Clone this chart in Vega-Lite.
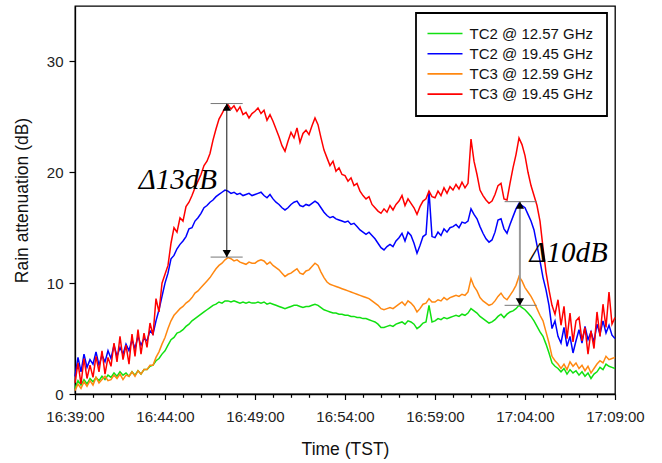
{
"autosize":"none",
"padding":{"left":75,"top":6,"right":47,"bottom":69},
"width":540,"height":388,
"config":{
 "view":{"stroke":"black","strokeWidth":1.3},
 "axis":{"domainColor":"black","domainWidth":1.3,"tickColor":"black","tickWidth":1.2,"labelFont":"Liberation Sans","labelFontSize":15,"labelColor":"#222","titleFont":"Liberation Sans","titleFontSize":17.5,"titleFontWeight":"normal","titleColor":"#111","grid":false},
 "legend":{"strokeWidth":1.8}
},
"layer":[
{
 "data":{"values":[
{"t":"16:39:00","TC2_12":0.5,"TC2_19":1.6,"TC3_12":0.3,"TC3_19":1.0},
{"t":"16:39:10","TC2_12":1.2,"TC2_19":3.3,"TC3_12":0.9,"TC3_19":2.8},
{"t":"16:39:20","TC2_12":0.8,"TC2_19":2.0,"TC3_12":0.5,"TC3_19":0.9},
{"t":"16:39:30","TC2_12":1.3,"TC2_19":3.6,"TC3_12":1.1,"TC3_19":3.2},
{"t":"16:39:40","TC2_12":0.9,"TC2_19":2.4,"TC3_12":0.7,"TC3_19":1.4},
{"t":"16:39:50","TC2_12":1.4,"TC2_19":3.1,"TC3_12":1.2,"TC3_19":2.6},
{"t":"16:40:00","TC2_12":1.1,"TC2_19":2.7,"TC3_12":0.8,"TC3_19":1.5},
{"t":"16:40:10","TC2_12":1.5,"TC2_19":3.8,"TC3_12":1.5,"TC3_19":3.4},
{"t":"16:40:20","TC2_12":1.2,"TC2_19":2.6,"TC3_12":1.0,"TC3_19":2.0},
{"t":"16:40:30","TC2_12":1.6,"TC2_19":3.5,"TC3_12":1.3,"TC3_19":3.9},
{"t":"16:40:40","TC2_12":1.3,"TC2_19":2.9,"TC3_12":1.6,"TC3_19":1.8},
{"t":"16:40:50","TC2_12":1.7,"TC2_19":3.9,"TC3_12":1.2,"TC3_19":3.3},
{"t":"16:41:00","TC2_12":1.5,"TC2_19":3.2,"TC3_12":1.3,"TC3_19":2.5},
{"t":"16:41:10","TC2_12":1.9,"TC2_19":4.4,"TC3_12":1.7,"TC3_19":4.6},
{"t":"16:41:20","TC2_12":1.6,"TC2_19":3.4,"TC3_12":1.4,"TC3_19":2.9},
{"t":"16:41:30","TC2_12":2.0,"TC2_19":4.2,"TC3_12":1.8,"TC3_19":5.2},
{"t":"16:41:40","TC2_12":1.7,"TC2_19":3.6,"TC3_12":1.3,"TC3_19":3.1},
{"t":"16:41:50","TC2_12":1.9,"TC2_19":4.5,"TC3_12":1.7,"TC3_19":4.4},
{"t":"16:42:00","TC2_12":1.6,"TC2_19":3.9,"TC3_12":1.6,"TC3_19":2.7},
{"t":"16:42:10","TC2_12":2.0,"TC2_19":4.9,"TC3_12":2.0,"TC3_19":5.4},
{"t":"16:42:20","TC2_12":1.7,"TC2_19":4.1,"TC3_12":1.6,"TC3_19":3.4},
{"t":"16:42:30","TC2_12":2.1,"TC2_19":5.2,"TC3_12":2.1,"TC3_19":5.8},
{"t":"16:42:40","TC2_12":1.8,"TC2_19":4.4,"TC3_12":1.8,"TC3_19":3.6},
{"t":"16:42:50","TC2_12":2.2,"TC2_19":5.0,"TC3_12":2.2,"TC3_19":5.5},
{"t":"16:43:00","TC2_12":2.2,"TC2_19":4.8,"TC3_12":2.2,"TC3_19":4.2},
{"t":"16:43:10","TC2_12":2.5,"TC2_19":5.7,"TC3_12":2.6,"TC3_19":6.4},
{"t":"16:43:20","TC2_12":2.6,"TC2_19":5.4,"TC3_12":2.6,"TC3_19":5.3},
{"t":"16:43:30","TC2_12":3.0,"TC2_19":6.6,"TC3_12":3.3,"TC3_19":8.6},
{"t":"16:43:40","TC2_12":3.2,"TC2_19":7.6,"TC3_12":3.8,"TC3_19":7.4},
{"t":"16:43:50","TC2_12":3.6,"TC2_19":8.8,"TC3_12":4.5,"TC3_19":10.0},
{"t":"16:44:00","TC2_12":3.9,"TC2_19":10.0,"TC3_12":5.1,"TC3_19":10.8},
{"t":"16:44:10","TC2_12":4.4,"TC2_19":10.9,"TC3_12":5.9,"TC3_19":11.6},
{"t":"16:44:20","TC2_12":4.9,"TC2_19":12.2,"TC3_12":6.6,"TC3_19":13.6},
{"t":"16:44:30","TC2_12":5.1,"TC2_19":12.5,"TC3_12":7.1,"TC3_19":15.0},
{"t":"16:44:40","TC2_12":5.5,"TC2_19":13.1,"TC3_12":7.4,"TC3_19":14.6},
{"t":"16:44:50","TC2_12":5.6,"TC2_19":13.5,"TC3_12":7.7,"TC3_19":15.9},
{"t":"16:45:00","TC2_12":5.8,"TC2_19":13.8,"TC3_12":7.9,"TC3_19":15.6},
{"t":"16:45:10","TC2_12":6.1,"TC2_19":14.2,"TC3_12":8.2,"TC3_19":16.9},
{"t":"16:45:20","TC2_12":6.3,"TC2_19":14.9,"TC3_12":8.4,"TC3_19":17.3},
{"t":"16:45:30","TC2_12":6.6,"TC2_19":15.0,"TC3_12":8.7,"TC3_19":17.9},
{"t":"16:45:40","TC2_12":6.8,"TC2_19":15.6,"TC3_12":9.1,"TC3_19":18.6},
{"t":"16:45:50","TC2_12":7.0,"TC2_19":15.9,"TC3_12":9.3,"TC3_19":19.2},
{"t":"16:46:00","TC2_12":7.2,"TC2_19":16.3,"TC3_12":9.6,"TC3_19":19.8},
{"t":"16:46:10","TC2_12":7.4,"TC2_19":16.8,"TC3_12":9.9,"TC3_19":20.6},
{"t":"16:46:20","TC2_12":7.6,"TC2_19":17.0,"TC3_12":10.2,"TC3_19":21.0},
{"t":"16:46:30","TC2_12":7.8,"TC2_19":17.3,"TC3_12":10.5,"TC3_19":21.7},
{"t":"16:46:40","TC2_12":8.0,"TC2_19":17.5,"TC3_12":10.9,"TC3_19":22.9},
{"t":"16:46:50","TC2_12":8.1,"TC2_19":17.8,"TC3_12":11.3,"TC3_19":23.9},
{"t":"16:47:00","TC2_12":8.3,"TC2_19":18.0,"TC3_12":11.6,"TC3_19":24.8},
{"t":"16:47:10","TC2_12":8.2,"TC2_19":18.2,"TC3_12":11.8,"TC3_19":25.3},
{"t":"16:47:20","TC2_12":8.4,"TC2_19":18.4,"TC3_12":12.1,"TC3_19":25.8},
{"t":"16:47:30","TC2_12":8.4,"TC2_19":18.3,"TC3_12":12.3,"TC3_19":26.1},
{"t":"16:47:40","TC2_12":8.3,"TC2_19":18.1,"TC3_12":12.2,"TC3_19":25.7},
{"t":"16:47:50","TC2_12":8.4,"TC2_19":18.2,"TC3_12":12.0,"TC3_19":26.0},
{"t":"16:48:00","TC2_12":8.3,"TC2_19":18.0,"TC3_12":12.1,"TC3_19":25.5},
{"t":"16:48:10","TC2_12":8.2,"TC2_19":18.1,"TC3_12":11.9,"TC3_19":25.9},
{"t":"16:48:20","TC2_12":8.3,"TC2_19":17.9,"TC3_12":11.8,"TC3_19":25.2},
{"t":"16:48:30","TC2_12":8.2,"TC2_19":18.0,"TC3_12":11.7,"TC3_19":25.4},
{"t":"16:48:40","TC2_12":8.3,"TC2_19":18.1,"TC3_12":11.9,"TC3_19":24.9},
{"t":"16:48:50","TC2_12":8.2,"TC2_19":17.9,"TC3_12":11.8,"TC3_19":25.3},
{"t":"16:49:00","TC2_12":8.2,"TC2_19":18.0,"TC3_12":11.8,"TC3_19":25.5},
{"t":"16:49:10","TC2_12":8.3,"TC2_19":18.1,"TC3_12":12.0,"TC3_19":25.8},
{"t":"16:49:20","TC2_12":8.2,"TC2_19":18.2,"TC3_12":12.1,"TC3_19":25.3},
{"t":"16:49:30","TC2_12":8.3,"TC2_19":17.9,"TC3_12":12.0,"TC3_19":25.6},
{"t":"16:49:40","TC2_12":8.1,"TC2_19":17.7,"TC3_12":11.7,"TC3_19":24.7},
{"t":"16:49:50","TC2_12":8.2,"TC2_19":18.0,"TC3_12":11.9,"TC3_19":25.2},
{"t":"16:50:00","TC2_12":8.1,"TC2_19":17.6,"TC3_12":11.6,"TC3_19":24.6},
{"t":"16:50:10","TC2_12":8.0,"TC2_19":17.3,"TC3_12":11.4,"TC3_19":23.9},
{"t":"16:50:20","TC2_12":7.9,"TC2_19":17.1,"TC3_12":11.2,"TC3_19":23.2},
{"t":"16:50:30","TC2_12":7.8,"TC2_19":16.8,"TC3_12":10.9,"TC3_19":22.4},
{"t":"16:50:40","TC2_12":7.7,"TC2_19":16.6,"TC3_12":10.6,"TC3_19":21.9},
{"t":"16:50:50","TC2_12":7.8,"TC2_19":16.8,"TC3_12":10.8,"TC3_19":22.8},
{"t":"16:51:00","TC2_12":7.9,"TC2_19":17.1,"TC3_12":10.9,"TC3_19":23.6},
{"t":"16:51:10","TC2_12":8.0,"TC2_19":17.3,"TC3_12":11.1,"TC3_19":23.1},
{"t":"16:51:20","TC2_12":8.0,"TC2_19":17.4,"TC3_12":11.3,"TC3_19":24.0},
{"t":"16:51:30","TC2_12":7.9,"TC2_19":17.0,"TC3_12":10.9,"TC3_19":22.7},
{"t":"16:51:40","TC2_12":7.8,"TC2_19":16.9,"TC3_12":10.8,"TC3_19":23.5},
{"t":"16:51:50","TC2_12":7.9,"TC2_19":17.1,"TC3_12":11.1,"TC3_19":23.8},
{"t":"16:52:00","TC2_12":7.9,"TC2_19":17.0,"TC3_12":11.2,"TC3_19":23.4},
{"t":"16:52:10","TC2_12":8.0,"TC2_19":17.2,"TC3_12":11.5,"TC3_19":24.2},
{"t":"16:52:20","TC2_12":8.1,"TC2_19":17.4,"TC3_12":11.8,"TC3_19":24.9},
{"t":"16:52:30","TC2_12":8.0,"TC2_19":17.2,"TC3_12":11.6,"TC3_19":24.3},
{"t":"16:52:40","TC2_12":7.8,"TC2_19":16.8,"TC3_12":11.0,"TC3_19":23.1},
{"t":"16:52:50","TC2_12":7.6,"TC2_19":16.4,"TC3_12":10.5,"TC3_19":22.0},
{"t":"16:53:00","TC2_12":7.5,"TC2_19":16.1,"TC3_12":10.1,"TC3_19":21.3},
{"t":"16:53:10","TC2_12":7.4,"TC2_19":15.9,"TC3_12":9.9,"TC3_19":20.6},
{"t":"16:53:20","TC2_12":7.3,"TC2_19":16.0,"TC3_12":9.8,"TC3_19":21.0},
{"t":"16:53:30","TC2_12":7.3,"TC2_19":15.8,"TC3_12":9.7,"TC3_19":20.1},
{"t":"16:53:40","TC2_12":7.2,"TC2_19":15.7,"TC3_12":9.6,"TC3_19":20.4},
{"t":"16:53:50","TC2_12":7.2,"TC2_19":15.6,"TC3_12":9.5,"TC3_19":19.8},
{"t":"16:54:00","TC2_12":7.1,"TC2_19":15.5,"TC3_12":9.4,"TC3_19":19.7},
{"t":"16:54:10","TC2_12":7.1,"TC2_19":15.6,"TC3_12":9.3,"TC3_19":19.2},
{"t":"16:54:20","TC2_12":7.0,"TC2_19":15.3,"TC3_12":9.2,"TC3_19":19.5},
{"t":"16:54:30","TC2_12":7.0,"TC2_19":15.4,"TC3_12":9.1,"TC3_19":18.8},
{"t":"16:54:40","TC2_12":6.9,"TC2_19":15.1,"TC3_12":9.0,"TC3_19":19.0},
{"t":"16:54:50","TC2_12":6.9,"TC2_19":14.8,"TC3_12":8.9,"TC3_19":18.3},
{"t":"16:55:00","TC2_12":6.8,"TC2_19":14.6,"TC3_12":8.8,"TC3_19":17.9},
{"t":"16:55:10","TC2_12":6.8,"TC2_19":14.4,"TC3_12":8.7,"TC3_19":17.6},
{"t":"16:55:20","TC2_12":6.7,"TC2_19":14.6,"TC3_12":8.6,"TC3_19":17.8},
{"t":"16:55:30","TC2_12":6.6,"TC2_19":14.3,"TC3_12":8.4,"TC3_19":17.1},
{"t":"16:55:40","TC2_12":6.5,"TC2_19":14.0,"TC3_12":8.2,"TC3_19":16.8},
{"t":"16:55:50","TC2_12":6.3,"TC2_19":13.6,"TC3_12":8.0,"TC3_19":16.5},
{"t":"16:56:00","TC2_12":6.0,"TC2_19":13.2,"TC3_12":7.7,"TC3_19":16.3},
{"t":"16:56:10","TC2_12":6.0,"TC2_19":13.0,"TC3_12":7.6,"TC3_19":16.7},
{"t":"16:56:20","TC2_12":6.1,"TC2_19":13.3,"TC3_12":7.7,"TC3_19":16.4},
{"t":"16:56:30","TC2_12":6.2,"TC2_19":13.5,"TC3_12":7.8,"TC3_19":17.0},
{"t":"16:56:40","TC2_12":6.1,"TC2_19":13.3,"TC3_12":7.7,"TC3_19":16.6},
{"t":"16:56:50","TC2_12":6.3,"TC2_19":13.8,"TC3_12":7.9,"TC3_19":17.1},
{"t":"16:57:00","TC2_12":6.4,"TC2_19":14.1,"TC3_12":8.1,"TC3_19":17.4},
{"t":"16:57:10","TC2_12":6.5,"TC2_19":14.5,"TC3_12":8.3,"TC3_19":17.9},
{"t":"16:57:20","TC2_12":6.3,"TC2_19":13.8,"TC3_12":8.0,"TC3_19":17.0},
{"t":"16:57:30","TC2_12":6.6,"TC2_19":14.6,"TC3_12":8.4,"TC3_19":17.6},
{"t":"16:57:40","TC2_12":6.5,"TC2_19":14.3,"TC3_12":8.2,"TC3_19":17.2},
{"t":"16:57:50","TC2_12":6.3,"TC2_19":13.6,"TC3_12":7.9,"TC3_19":16.8},
{"t":"16:58:00","TC2_12":5.9,"TC2_19":12.7,"TC3_12":7.4,"TC3_19":16.2},
{"t":"16:58:10","TC2_12":6.1,"TC2_19":13.4,"TC3_12":7.7,"TC3_19":16.9},
{"t":"16:58:20","TC2_12":6.4,"TC2_19":14.2,"TC3_12":8.1,"TC3_19":17.4},
{"t":"16:58:30","TC2_12":6.5,"TC2_19":14.4,"TC3_12":8.2,"TC3_19":17.6},
{"t":"16:58:40","TC2_12":8.0,"TC2_19":18.3,"TC3_12":8.6,"TC3_19":18.3},
{"t":"16:58:50","TC2_12":6.5,"TC2_19":14.2,"TC3_12":8.3,"TC3_19":17.8},
{"t":"16:59:00","TC2_12":6.6,"TC2_19":14.1,"TC3_12":8.3,"TC3_19":17.7},
{"t":"16:59:10","TC2_12":6.8,"TC2_19":14.6,"TC3_12":8.5,"TC3_19":18.3},
{"t":"16:59:20","TC2_12":6.7,"TC2_19":14.3,"TC3_12":8.4,"TC3_19":17.9},
{"t":"16:59:30","TC2_12":6.9,"TC2_19":14.9,"TC3_12":8.7,"TC3_19":18.6},
{"t":"16:59:40","TC2_12":6.8,"TC2_19":14.6,"TC3_12":8.5,"TC3_19":18.1},
{"t":"16:59:50","TC2_12":6.9,"TC2_19":15.0,"TC3_12":8.7,"TC3_19":18.7},
{"t":"17:00:00","TC2_12":7.0,"TC2_19":15.1,"TC3_12":8.8,"TC3_19":18.4},
{"t":"17:00:10","TC2_12":7.1,"TC2_19":15.3,"TC3_12":8.9,"TC3_19":18.9},
{"t":"17:00:20","TC2_12":7.0,"TC2_19":15.0,"TC3_12":8.8,"TC3_19":18.5},
{"t":"17:00:30","TC2_12":7.2,"TC2_19":15.5,"TC3_12":9.0,"TC3_19":19.1},
{"t":"17:00:40","TC2_12":7.1,"TC2_19":15.4,"TC3_12":8.9,"TC3_19":18.6},
{"t":"17:00:50","TC2_12":7.3,"TC2_19":15.6,"TC3_12":9.2,"TC3_19":19.0},
{"t":"17:01:00","TC2_12":7.7,"TC2_19":16.7,"TC3_12":10.4,"TC3_19":23.0},
{"t":"17:01:10","TC2_12":7.5,"TC2_19":16.2,"TC3_12":9.7,"TC3_19":21.0},
{"t":"17:01:20","TC2_12":7.3,"TC2_19":15.8,"TC3_12":9.3,"TC3_19":19.8},
{"t":"17:01:30","TC2_12":7.0,"TC2_19":15.1,"TC3_12":8.7,"TC3_19":18.4},
{"t":"17:01:40","TC2_12":6.8,"TC2_19":14.5,"TC3_12":8.4,"TC3_19":17.9},
{"t":"17:01:50","TC2_12":6.6,"TC2_19":14.0,"TC3_12":8.2,"TC3_19":17.5},
{"t":"17:02:00","TC2_12":6.4,"TC2_19":13.7,"TC3_12":8.0,"TC3_19":17.2},
{"t":"17:02:10","TC2_12":6.5,"TC2_19":13.9,"TC3_12":8.1,"TC3_19":17.4},
{"t":"17:02:20","TC2_12":6.7,"TC2_19":14.6,"TC3_12":8.4,"TC3_19":18.0},
{"t":"17:02:30","TC2_12":7.0,"TC2_19":15.7,"TC3_12":8.8,"TC3_19":18.8},
{"t":"17:02:40","TC2_12":7.2,"TC2_19":15.8,"TC3_12":9.1,"TC3_19":19.0},
{"t":"17:02:50","TC2_12":6.9,"TC2_19":14.9,"TC3_12":8.7,"TC3_19":17.6},
{"t":"17:03:00","TC2_12":7.2,"TC2_19":14.5,"TC3_12":8.5,"TC3_19":17.5},
{"t":"17:03:10","TC2_12":7.4,"TC2_19":15.3,"TC3_12":8.9,"TC3_19":19.0},
{"t":"17:03:20","TC2_12":7.5,"TC2_19":16.0,"TC3_12":9.3,"TC3_19":20.4},
{"t":"17:03:30","TC2_12":7.7,"TC2_19":16.7,"TC3_12":9.8,"TC3_19":21.6},
{"t":"17:03:40","TC2_12":8.0,"TC2_19":17.2,"TC3_12":10.6,"TC3_19":23.1},
{"t":"17:03:50","TC2_12":7.8,"TC2_19":17.0,"TC3_12":10.2,"TC3_19":22.5},
{"t":"17:04:00","TC2_12":7.6,"TC2_19":16.8,"TC3_12":9.6,"TC3_19":21.5},
{"t":"17:04:10","TC2_12":7.3,"TC2_19":16.2,"TC3_12":9.2,"TC3_19":20.0},
{"t":"17:04:20","TC2_12":7.0,"TC2_19":15.6,"TC3_12":8.8,"TC3_19":18.8},
{"t":"17:04:30","TC2_12":6.6,"TC2_19":14.8,"TC3_12":8.3,"TC3_19":17.9},
{"t":"17:04:40","TC2_12":6.1,"TC2_19":13.4,"TC3_12":7.7,"TC3_19":17.0},
{"t":"17:04:50","TC2_12":5.6,"TC2_19":12.0,"TC3_12":7.1,"TC3_19":15.6},
{"t":"17:05:00","TC2_12":5.2,"TC2_19":10.5,"TC3_12":6.6,"TC3_19":13.2},
{"t":"17:05:10","TC2_12":4.5,"TC2_19":9.4,"TC3_12":5.6,"TC3_19":11.0},
{"t":"17:05:20","TC2_12":3.7,"TC2_19":8.0,"TC3_12":4.6,"TC3_19":9.4},
{"t":"17:05:30","TC2_12":2.8,"TC2_19":5.9,"TC3_12":3.4,"TC3_19":8.0},
{"t":"17:05:40","TC2_12":2.5,"TC2_19":6.6,"TC3_12":3.0,"TC3_19":7.2},
{"t":"17:05:50","TC2_12":2.3,"TC2_19":5.2,"TC3_12":2.7,"TC3_19":8.5},
{"t":"17:06:00","TC2_12":2.0,"TC2_19":4.6,"TC3_12":2.3,"TC3_19":6.2},
{"t":"17:06:10","TC2_12":2.3,"TC2_19":6.0,"TC3_12":2.7,"TC3_19":7.9},
{"t":"17:06:20","TC2_12":1.8,"TC2_19":4.3,"TC3_12":2.2,"TC3_19":5.0},
{"t":"17:06:30","TC2_12":2.2,"TC2_19":5.2,"TC3_12":2.9,"TC3_19":7.3},
{"t":"17:06:40","TC2_12":1.9,"TC2_19":3.7,"TC3_12":2.5,"TC3_19":4.7},
{"t":"17:06:50","TC2_12":2.1,"TC2_19":4.8,"TC3_12":2.8,"TC3_19":6.6},
{"t":"17:07:00","TC2_12":1.7,"TC2_19":5.8,"TC3_12":2.3,"TC3_19":6.9},
{"t":"17:07:10","TC2_12":2.0,"TC2_19":4.6,"TC3_12":2.6,"TC3_19":4.8},
{"t":"17:07:20","TC2_12":1.6,"TC2_19":6.1,"TC3_12":2.1,"TC3_19":6.0},
{"t":"17:07:30","TC2_12":1.9,"TC2_19":4.9,"TC3_12":2.5,"TC3_19":3.6},
{"t":"17:07:40","TC2_12":1.4,"TC2_19":5.6,"TC3_12":1.9,"TC3_19":5.7},
{"t":"17:07:50","TC2_12":1.8,"TC2_19":4.7,"TC3_12":2.3,"TC3_19":4.1},
{"t":"17:08:00","TC2_12":2.0,"TC2_19":6.3,"TC3_12":2.7,"TC3_19":7.4},
{"t":"17:08:10","TC2_12":2.4,"TC2_19":5.4,"TC3_12":3.0,"TC3_19":5.2},
{"t":"17:08:20","TC2_12":2.2,"TC2_19":6.6,"TC3_12":2.8,"TC3_19":8.1},
{"t":"17:08:30","TC2_12":2.7,"TC2_19":5.5,"TC3_12":3.4,"TC3_19":6.0},
{"t":"17:08:40","TC2_12":2.5,"TC2_19":6.2,"TC3_12":3.1,"TC3_19":9.2},
{"t":"17:08:50","TC2_12":2.4,"TC2_19":5.3,"TC3_12":3.2,"TC3_19":6.3},
{"t":"17:09:00","TC2_12":2.3,"TC2_19":5.0,"TC3_12":3.3,"TC3_19":6.9}
 ],"format":{"parse":{"t":"date:'%H:%M:%S'"}}},
 "transform":[{"fold":["TC2_12","TC2_19","TC3_12","TC3_19"],"as":["series","dB"]}],
 "mark":{"type":"line","strokeWidth":1.5},
 "encoding":{
  "x":{"field":"t","type":"temporal","scale":{"nice":false},
   "axis":{"title":"Time (TST)","format":"%H:%M:%S","tickCount":30,
    "labelExpr":"minutes(datum.value) % 5 == 4 ? datum.label : ''",
    "tickSize":{"condition":{"test":"minutes(datum.value) % 5 == 4","value":5.5},"value":3.3},
    "labelOverlap":false,"labelFlush":false,"labelPadding":10,"titlePadding":16}},
  "y":{"field":"dB","type":"quantitative","scale":{"domain":[0,35],"nice":false},
   "axis":{"title":"Rain attenuation (dB)","values":[0,10,20,30],"tickSize":6,"labelPadding":6,"titlePadding":15}},
  "color":{"field":"series","type":"nominal",
   "scale":{"domain":["TC2_12","TC2_19","TC3_12","TC3_19"],"range":["#11e011","#0000ff","#ff8811","#ff0000"]},
   "legend":{"orient":"none","legendX":341,"legendY":7,"title":null,
    "labelExpr":"datum.label == 'TC2_12' ? 'TC2 @ 12.57 GHz' : datum.label == 'TC2_19' ? 'TC2 @ 19.45 GHz' : datum.label == 'TC3_12' ? 'TC3 @ 12.59 GHz' : 'TC3 @ 19.45 GHz'",
    "symbolType":"M-3.5,0H3.5","symbolSize":100,"symbolStrokeWidth":1.6,"symbolOffset":8.5,"labelOffset":17,
    "padding":13,"rowPadding":4.2,"strokeColor":"black","fillColor":"white",
    "labelFont":"Liberation Sans","labelFontSize":15,"labelColor":"#111"}}
 }
},
{
 "data":{"values":[
{"t":"16:47:26","dB":26.2,"dB2":12.35,"kind":"a"},
{"t":"17:03:43","dB":17.35,"dB2":8.0,"kind":"b"}
 ],"format":{"parse":{"t":"date:'%H:%M:%S'"}}},
 "mark":{"type":"rule"},
 "encoding":{
  "x":{"field":"t","type":"temporal"},
  "y":{"field":"dB","type":"quantitative"},
  "y2":{"field":"dB2"},
  "color":{"condition":{"test":"datum.kind == 'a'","value":"#111"},"value":"#999"},
  "strokeWidth":{"condition":{"test":"datum.kind == 'a'","value":1},"value":2}
 }
},
{
 "data":{"values":[
{"t":"16:46:32","t2":"16:48:19","dB":26.2},
{"t":"16:46:32","t2":"16:48:19","dB":12.35},
{"t":"17:02:52","t2":"17:04:39","dB":17.35},
{"t":"17:02:52","t2":"17:04:39","dB":8.0}
 ],"format":{"parse":{"t":"date:'%H:%M:%S'","t2":"date:'%H:%M:%S'"}}},
 "mark":{"type":"rule","color":"#777","strokeWidth":1},
 "encoding":{
  "x":{"field":"t","type":"temporal"},
  "x2":{"field":"t2"},
  "y":{"field":"dB","type":"quantitative"}
 }
},
{
 "data":{"values":[
{"t":"16:47:26","dB":25.88,"dir":"up"},
{"t":"16:47:26","dB":12.67,"dir":"down"},
{"t":"17:03:43","dB":17.03,"dir":"up"},
{"t":"17:03:43","dB":8.32,"dir":"down"}
 ],"format":{"parse":{"t":"date:'%H:%M:%S'"}}},
 "mark":{"type":"point","filled":true,"color":"black","size":70,"opacity":1},
 "encoding":{
  "x":{"field":"t","type":"temporal"},
  "y":{"field":"dB","type":"quantitative"},
  "shape":{"field":"dir","type":"nominal","scale":{"domain":["up","down"],"range":["triangle-up","triangle-down"]},"legend":null}
 }
},
{
 "data":{"values":[
{"t":"16:44:43","dB":18.46,"text":"Δ13dB"},
{"t":"17:06:25","dB":11.92,"text":"Δ10dB"}
 ],"format":{"parse":{"t":"date:'%H:%M:%S'"}}},
 "mark":{"type":"text","font":"Liberation Serif","fontStyle":"italic","fontSize":29,"align":"center","baseline":"alphabetic","color":"black"},
 "encoding":{
  "x":{"field":"t","type":"temporal"},
  "y":{"field":"dB","type":"quantitative"},
  "text":{"field":"text"}
 }
}
]
}
